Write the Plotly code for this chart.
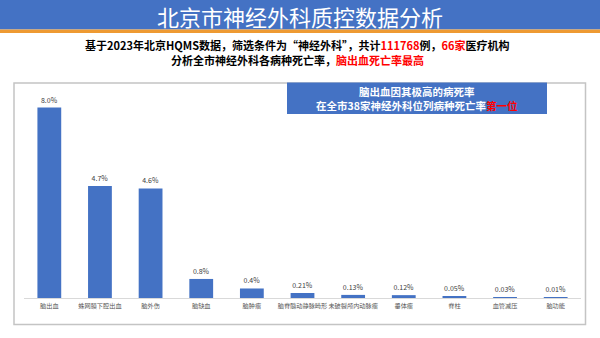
import plotly.graph_objects as go

# Neurosurgery mortality by disease category, Beijing HQMS 2023
categories = ["脑出血", "蛛网膜下腔出血", "脑外伤", "脑缺血", "脑肿瘤", "脑脊髓动静脉畸形",
              "未破裂颅内动脉瘤", "垂体瘤", "脊柱", "血管减压", "脑功能"]
mortality = [8.0, 4.7, 4.6, 0.8, 0.4, 0.21, 0.13, 0.12, 0.05, 0.03, 0.01]
value_labels = ["8.0%", "4.7%", "4.6%", "0.8%", "0.4%", "0.21%", "0.13%", "0.12%",
                "0.05%", "0.03%", "0.01%"]

title_text = "北京市神经外科质控数据分析"
sub_line1 = ("<b>基于2023年北京HQMS数据，筛选条件为“神经外科”，共计"
             "<span style='color:#FF0000'>111768</span>例，"
             "<span style='color:#FF0000'>66家</span>医疗机构</b>")
sub_line2 = ("<b>分析全市神经外科各病种死亡率，"
             "<span style='color:#FF0000'>脑出血死亡率最高</span></b>")
box_text = ("<b>脑出血因其极高的病死率</b><br>"
            "<b>在全市38家神经外科位列病种死亡率"
            "<span style='color:#FF0000'>第一位</span></b>")

W, H = 600, 338
ML, MR, MT, MB = 24, 19, 98, 40
PW, PH = W - ML - MR, H - MT - MB
BLUE = "#4472C4"
FONT = "Noto Sans CJK SC"


def px_x(px):
    return (px - ML) / PW


def px_y(py):
    return (H - MB - py) / PH


fig = go.Figure(go.Bar(
    x=categories, y=mortality, text=value_labels,
    textposition="outside", cliponaxis=False, constraintext="none",
    textfont=dict(size=7, color="#404040", family=FONT),
    marker=dict(color=BLUE, line=dict(width=0)),
    width=0.47, hoverinfo="x+y",
))

shapes = [
    # header bar and its orange underline
    dict(type="rect", xref="paper", yref="paper", x0=px_x(-2), x1=px_x(W + 2),
         y0=px_y(29.5), y1=px_y(-2), fillcolor=BLUE, line=dict(width=0), layer="below"),
    dict(type="rect", xref="paper", yref="paper", x0=px_x(-2), x1=px_x(W + 2),
         y0=px_y(33), y1=px_y(29.5), fillcolor="#EE9A32", line=dict(width=0), layer="below"),
    # chart frame
    dict(type="rect", xref="paper", yref="paper", x0=px_x(14), x1=px_x(585.5),
         y0=px_y(324.5), y1=px_y(83), fillcolor="rgba(0,0,0,0)",
         line=dict(color="#C4C4C4", width=1.5), layer="below"),
    # callout box
    dict(type="rect", xref="paper", yref="paper", x0=px_x(287), x1=px_x(547),
         y0=px_y(114), y1=px_y(82.5), fillcolor=BLUE, line=dict(width=0), layer="above"),
]

annotations = [
    dict(text=title_text, x=px_x(300), y=px_y(16), xref="paper", yref="paper",
         showarrow=False, xanchor="center", yanchor="middle",
         font=dict(size=22, color="white", family=FONT)),
    dict(text=sub_line1, x=px_x(297), y=px_y(45), xref="paper", yref="paper",
         showarrow=False, xanchor="center", yanchor="middle",
         font=dict(size=11, color="black", family=FONT)),
    dict(text=sub_line2, x=px_x(297), y=px_y(60), xref="paper", yref="paper",
         showarrow=False, xanchor="center", yanchor="middle",
         font=dict(size=11, color="black", family=FONT)),
    dict(text=box_text, x=px_x(417), y=px_y(98.5), xref="paper", yref="paper",
         showarrow=False, xanchor="center", yanchor="middle", align="center",
         font=dict(size=10.5, color="white", family=FONT)),
]

fig.update_layout(
    width=W, height=H,
    margin=dict(l=ML, r=MR, t=MT, b=MB, pad=0),
    paper_bgcolor="white", plot_bgcolor="white",
    showlegend=False,
    shapes=shapes, annotations=annotations,
    font=dict(family=FONT),
    xaxis=dict(range=[-0.5, 10.5], showgrid=False, zeroline=False,
               showline=True, linecolor="#D9D9D9", linewidth=1,
               ticks="", tickangle=0, ticklabelstandoff=2,
               tickfont=dict(size=6.2, color="#595959", family=FONT),
               fixedrange=True),
    yaxis=dict(range=[0, 8.4], visible=False, fixedrange=True),
)

fig.write_html("out.html", config={"displayModeBar": False})
